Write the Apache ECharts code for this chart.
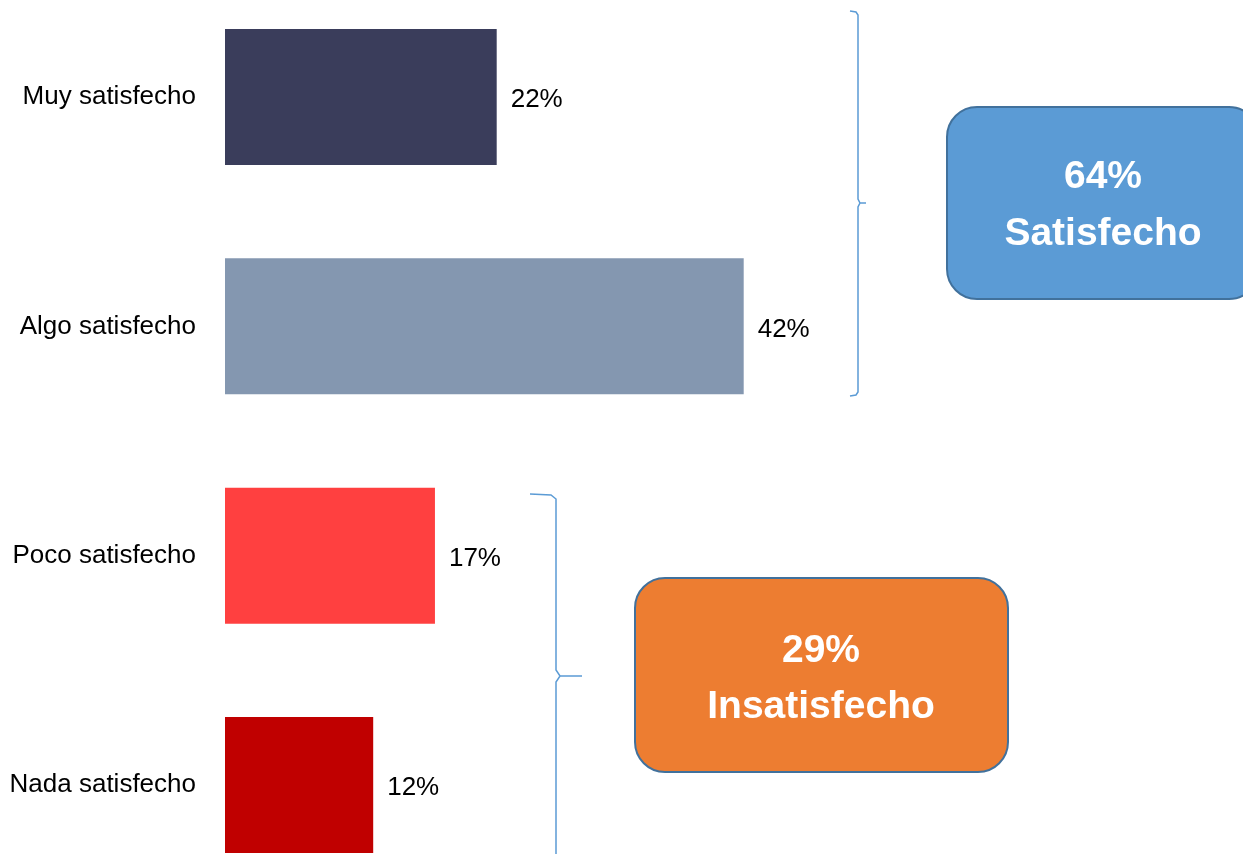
<!DOCTYPE html>
<html>
<head>
<meta charset="utf-8">
<script src="https://cdn.jsdelivr.net/npm/echarts@6/dist/echarts.min.js"></script>
<style>
  html, body { margin: 0; padding: 0; background: #fff; }
  #chart { width: 1243px; height: 854px; }
</style>
</head>
<body>
<div id="chart"></div>
<script>
// data
const categories = ['Muy satisfecho', 'Algo satisfecho', 'Poco satisfecho', 'Nada satisfecho']
const values = [22, 42, 17, 12]
const barColors = ['#3A3D5B', '#8497B0', '#FF4040', '#C00000']
const groupLabels = ['64%\nSatisfecho', '29%\nInsatisfecho']

const FONT = '"Liberation Sans", Arial, sans-serif'
const braceColor = '#5B9BD5'

const chart = echarts.init(document.getElementById('chart'))

const option = {
  backgroundColor: '#fff',
  animation: false,
  grid: {
    left: 225,
    right: 30,
    top: 97,
    bottom: 69,
    containLabel: false,
  },
  xAxis: {
    type: 'value',
    min: 0,
    max: 80,
    show: false,
  },
  yAxis: {
    type: 'category',
    inverse: true,
    boundaryGap: false,
    data: categories,
    axisLine: { show: false },
    axisTick: { show: false },
    splitLine: { show: false },
    axisLabel: {
      margin: 29,
      color: '#000',
      fontSize: 26,
      fontFamily: FONT,
      padding: [6, 0, 0, 0],
    },
  },
  series: [
    {
      type: 'bar',
      barWidth: 136,
      data: values.map((v, i) => ({ value: v, itemStyle: { color: barColors[i] } })),
      label: {
        show: true,
        position: 'right',
        distance: 16,
        offset: [-2, 3],
        formatter: '{c}%',
        color: '#000',
        fontSize: 26,
        fontFamily: FONT,
      },
    },
  ],
  graphic: [
    // top brace
    {
      type: 'polyline',
      shape: { points: [[850, 11], [856, 12], [858, 15], [858, 199], [860, 203], [866, 203], [860, 203], [858, 207], [858, 392], [856, 395], [850, 396]] },
      style: { stroke: braceColor, fill: null, lineWidth: 1.5 },
    },
    // bottom brace
    {
      type: 'polyline',
      shape: { points: [[530, 494], [551, 495], [556, 499], [556, 670], [560, 676], [582, 676], [560, 676], [556, 682], [556, 860]] },
      style: { stroke: braceColor, fill: null, lineWidth: 1.5 },
    },
    // satisfecho box
    {
      type: 'rect',
      shape: { x: 947, y: 107, width: 312, height: 192, r: 30 },
      style: { fill: '#5B9BD5', stroke: '#41719C', lineWidth: 2 },
    },
    {
      type: 'text',
      x: 1103,
      y: 206,
      style: {
        text: groupLabels[0],
        fill: '#fff',
        font: 'bold 39px ' + FONT,
        align: 'center',
        verticalAlign: 'middle',
        lineHeight: 57,
      },
    },
    // insatisfecho box
    {
      type: 'rect',
      shape: { x: 635, y: 578, width: 373, height: 194, r: 30 },
      style: { fill: '#ED7D31', stroke: '#41719C', lineWidth: 2 },
    },
    {
      type: 'text',
      x: 821,
      y: 679,
      style: {
        text: groupLabels[1],
        fill: '#fff',
        font: 'bold 39px ' + FONT,
        align: 'center',
        verticalAlign: 'middle',
        lineHeight: 56,
      },
    },
  ],
}

chart.setOption(option)

window.addEventListener('resize', () => {
  chart.resize()
})
</script>
</body>
</html>
